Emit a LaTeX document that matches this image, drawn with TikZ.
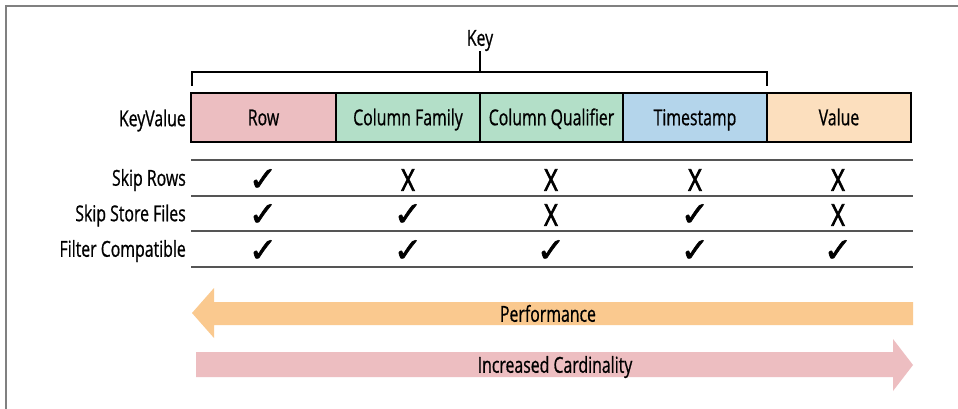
\documentclass[tikz,border=0pt]{standalone}
\usepackage{fontspec}
\setmainfont{Open Sans}[FakeStretch=0.72,FakeBold=0.7]
\newfontfamily\symfont{DejaVu Sans}[FakeBold=1.8]
\newfontfamily\xfont{Open Sans}[FakeStretch=0.78,FakeBold=2.4]
\definecolor{rowc}{HTML}{ECBEC1}
\definecolor{famc}{HTML}{B3DFC8}
\definecolor{tsc}{HTML}{B4D5EB}
\definecolor{valc}{HTML}{FCDFBE}
\definecolor{perfc}{HTML}{FAC98F}
\definecolor{cardc}{HTML}{EDBEC1}
\definecolor{rulec}{HTML}{555555}
\definecolor{framec}{HTML}{808080}
\tikzset{
  txt/.style={font=\fontsize{22}{24}\selectfont, text=black, inner sep=0pt, text height=15.5pt, text depth=0pt},
  cellbox/.style={txt, draw=black, line width=2pt, minimum width=#1, minimum height=49, outer sep=0pt},
  lbl/.style={txt, anchor=east},
  yes/.style={font=\symfont\fontsize{34}{36}\selectfont, inner sep=0pt},
  no/.style={font=\xfont\fontsize{30}{32}\selectfont, inner sep=0pt},
  rulel/.style={draw=rulec, line width=2.6pt},
  framel/.style={draw=framec, line width=1.4pt},
  bracketl/.style={draw=black, line width=1.8pt},
}
\begin{document}
\begin{tikzpicture}[x=1pt,y=-1pt]
\useasboundingbox (0,0) rectangle (958,409);
\fill[white] (0,0) rectangle (958,409);
\draw[framel] (958,6) -- (6,6) -- (6,409);

% key bracket
\node[txt] (key) at (480,38) {Key};
\coordinate (stemtop) at (480,51);
\coordinate (stembot) at (480,72);
\coordinate (bl) at (192,86);
\coordinate (bla) at (192,72);
\coordinate (bra) at (767,72);
\coordinate (br) at (767,86);
\draw[bracketl] (stemtop) -- (stembot);
\draw[bracketl] (bl) -- (bla) -- (bra) -- (br);

% key value cells
\node[lbl] (kv) at (186,118.5) {KeyValue};
\node[cellbox=145, fill=rowc] (row) at (263.5,117.5) {Row};
\node[cellbox=144, fill=famc] (fam) at (408,117.5) {Column Family};
\node[cellbox=143, fill=famc] (qual) at (551.5,117.5) {Column Qualifier};
\node[cellbox=144, fill=tsc] (ts) at (695,117.5) {Timestamp};
\node[cellbox=144, fill=valc] (val) at (839,117.5) {Value};

% table rules
\foreach \y/\n in {160/r0,196/r1,231/r2,267/r3}{
  \coordinate (\n a) at (191,\y);
  \coordinate (\n b) at (913,\y);
  \draw[rulel] (\n a) -- (\n b);
}

% row labels
\node[lbl] (l1) at (186,178) {Skip Rows};
\node[lbl] (l2) at (186,213.5) {Skip Store Files};
\node[lbl] (l3) at (186,249) {Filter Compatible};

% marks
\node[yes] (m11) at (263,180) {✓};
\node[no]  (m12) at (408,180) {X};
\node[no]  (m13) at (551,180) {X};
\node[no]  (m14) at (695,180) {X};
\node[no]  (m15) at (838,180) {X};

\node[yes] (m21) at (263,215) {✓};
\node[yes] (m22) at (408,215) {✓};
\node[no]  (m23) at (551,215) {X};
\node[yes] (m24) at (695,215) {✓};
\node[no]  (m25) at (838,215) {X};

\node[yes] (m31) at (263,251) {✓};
\node[yes] (m32) at (408,251) {✓};
\node[yes] (m33) at (551,251) {✓};
\node[yes] (m34) at (695,251) {✓};
\node[yes] (m35) at (838,251) {✓};

% arrows
\fill[perfc] (192,313) -- (214,288) -- (214,302) -- (913,302) -- (913,325) -- (214,325) -- (214,338) -- cycle;
\node[txt] (perf) at (548,314) {Performance};
\fill[cardc] (196,352) -- (893,352) -- (893,339) -- (913,365) -- (893,391) -- (893,377) -- (196,377) -- cycle;
\node[txt] (card) at (555,365) {Increased Cardinality};
\end{tikzpicture}
\end{document}
